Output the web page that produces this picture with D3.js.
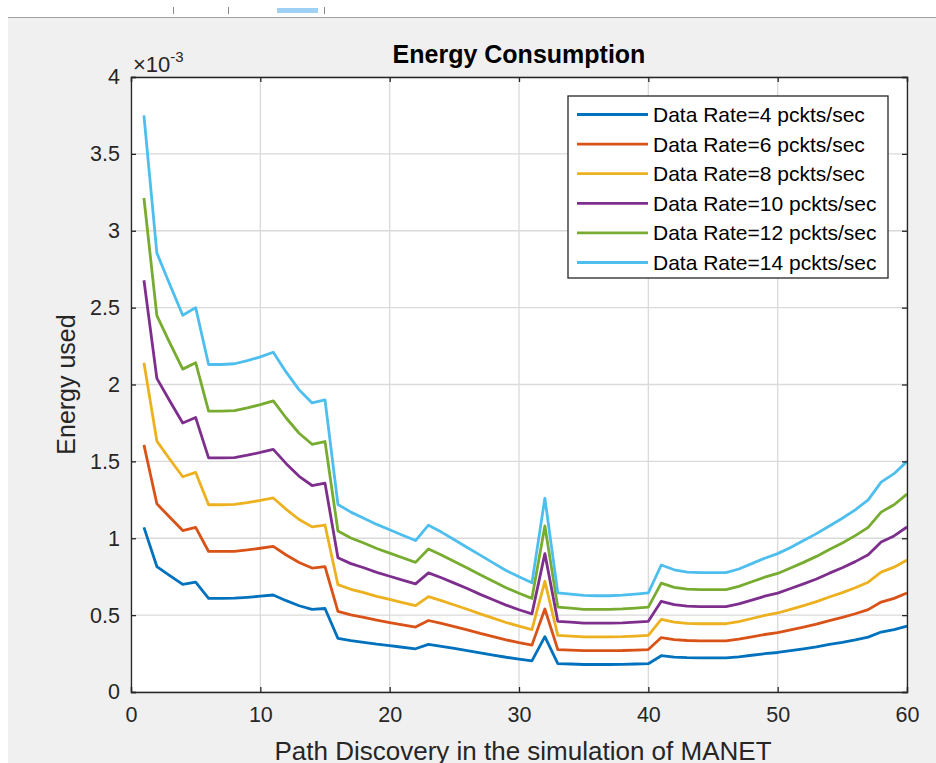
<!DOCTYPE html>
<html>
<head>
<meta charset="utf-8">
<script src="https://cdn.jsdelivr.net/npm/d3@7"></script>
<style>
  body { margin: 0; background: #fff; }
  text { font-family: "Liberation Sans", Arial, sans-serif; }
</style>
</head>
<body>
<div id="container"></div>
<script>
// path discovery index (x axis)
const pathIndex = [
  1, 2, 3, 4, 5, 6, 7, 8, 9, 10, 11, 12, 13, 14, 15, 16, 17, 18, 19, 20,
  21, 22, 23, 24, 25, 26, 27, 28, 29, 30, 31, 32, 33, 34, 35, 36, 37, 38, 39, 40,
  41, 42, 43, 44, 45, 46, 47, 48, 49, 50, 51, 52, 53, 54, 55, 56, 57, 58, 59, 60,
];

// energy used, in units of 1e-3
const rate4 = [
  1.071, 0.816, 0.757, 0.700, 0.714, 0.609, 0.609, 0.610, 0.616, 0.623,
  0.631, 0.594, 0.561, 0.537, 0.543, 0.349, 0.334, 0.323, 0.311, 0.301,
  0.291, 0.281, 0.310, 0.297, 0.283, 0.269, 0.254, 0.240, 0.226, 0.214,
  0.203, 0.360, 0.184, 0.182, 0.179, 0.179, 0.179, 0.180, 0.182, 0.184,
  0.236, 0.227, 0.223, 0.222, 0.222, 0.222, 0.229, 0.239, 0.249, 0.257,
  0.269, 0.281, 0.294, 0.309, 0.323, 0.339, 0.357, 0.390, 0.406, 0.429,
];
const rate6 = [
  1.607, 1.224, 1.136, 1.050, 1.071, 0.914, 0.914, 0.915, 0.924, 0.935,
  0.947, 0.891, 0.842, 0.806, 0.815, 0.524, 0.501, 0.485, 0.467, 0.452,
  0.437, 0.422, 0.465, 0.446, 0.425, 0.404, 0.381, 0.360, 0.339, 0.321,
  0.305, 0.540, 0.276, 0.273, 0.269, 0.269, 0.269, 0.270, 0.273, 0.276,
  0.354, 0.341, 0.335, 0.333, 0.333, 0.333, 0.344, 0.359, 0.374, 0.386,
  0.404, 0.422, 0.441, 0.464, 0.485, 0.509, 0.536, 0.585, 0.609, 0.644,
];
const rate8 = [
  2.142, 1.632, 1.514, 1.400, 1.428, 1.218, 1.218, 1.220, 1.232, 1.246,
  1.262, 1.188, 1.122, 1.074, 1.086, 0.698, 0.668, 0.646, 0.622, 0.602,
  0.582, 0.562, 0.620, 0.594, 0.566, 0.538, 0.508, 0.480, 0.452, 0.428,
  0.406, 0.720, 0.368, 0.364, 0.358, 0.358, 0.358, 0.360, 0.364, 0.368,
  0.472, 0.454, 0.446, 0.444, 0.444, 0.444, 0.458, 0.478, 0.498, 0.514,
  0.538, 0.562, 0.588, 0.618, 0.646, 0.678, 0.714, 0.780, 0.812, 0.858,
];
const rate10 = [
  2.678, 2.040, 1.893, 1.750, 1.785, 1.523, 1.523, 1.525, 1.540, 1.558,
  1.578, 1.485, 1.403, 1.343, 1.358, 0.873, 0.835, 0.808, 0.778, 0.753,
  0.728, 0.703, 0.775, 0.743, 0.708, 0.673, 0.635, 0.600, 0.565, 0.535,
  0.508, 0.900, 0.460, 0.455, 0.448, 0.448, 0.448, 0.450, 0.455, 0.460,
  0.590, 0.568, 0.558, 0.555, 0.555, 0.555, 0.573, 0.598, 0.623, 0.643,
  0.673, 0.703, 0.735, 0.773, 0.808, 0.848, 0.893, 0.975, 1.015, 1.073,
];
const rate12 = [
  3.213, 2.448, 2.271, 2.100, 2.142, 1.827, 1.827, 1.830, 1.848, 1.869,
  1.893, 1.782, 1.683, 1.611, 1.629, 1.047, 1.002, 0.969, 0.933, 0.903,
  0.873, 0.843, 0.930, 0.891, 0.849, 0.807, 0.762, 0.720, 0.678, 0.642,
  0.609, 1.080, 0.552, 0.546, 0.537, 0.537, 0.537, 0.540, 0.546, 0.552,
  0.708, 0.681, 0.669, 0.666, 0.666, 0.666, 0.687, 0.717, 0.747, 0.771,
  0.807, 0.843, 0.882, 0.927, 0.969, 1.017, 1.071, 1.170, 1.218, 1.287,
];
const rate14 = [
  3.750, 2.855, 2.650, 2.450, 2.500, 2.130, 2.130, 2.135, 2.155, 2.180,
  2.210, 2.080, 1.965, 1.880, 1.900, 1.220, 1.170, 1.130, 1.090, 1.055,
  1.020, 0.985, 1.085, 1.040, 0.990, 0.940, 0.890, 0.840, 0.790, 0.750,
  0.710, 1.260, 0.645, 0.637, 0.628, 0.626, 0.626, 0.630, 0.637, 0.645,
  0.826, 0.795, 0.780, 0.776, 0.776, 0.776, 0.800, 0.835, 0.870, 0.900,
  0.940, 0.985, 1.030, 1.080, 1.130, 1.185, 1.250, 1.365, 1.420, 1.500,
];

const seriesNames = [
  "Data Rate=4 pckts/sec",
  "Data Rate=6 pckts/sec",
  "Data Rate=8 pckts/sec",
  "Data Rate=10 pckts/sec",
  "Data Rate=12 pckts/sec",
  "Data Rate=14 pckts/sec",
];
const seriesValues = [rate4, rate6, rate8, rate10, rate12, rate14];
const colors = ["#0072BD", "#D95319", "#EDB120", "#7E2F8E", "#77AC30", "#4DBEEE"];

const xTicks = [0, 10, 20, 30, 40, 50, 60];
const yTicks = [0, 0.5, 1, 1.5, 2, 2.5, 3, 3.5, 4];

const width = 936;
const height = 763;
const plot = { left: 131, right: 907, top: 77, bottom: 692 };
const axisColor = "#262626";

const svg = d3
  .select("#container")
  .append("svg")
  .attr("width", width)
  .attr("height", height);

// window / figure background
svg.append("rect").attr("width", width).attr("height", height).attr("fill", "#fff");
svg
  .append("rect")
  .attr("x", 8)
  .attr("y", 18)
  .attr("width", width - 8)
  .attr("height", height - 18)
  .attr("fill", "#f0f0f0");
svg
  .append("line")
  .attr("x1", 8)
  .attr("x2", width)
  .attr("y1", 17.5)
  .attr("y2", 17.5)
  .attr("stroke", "#a0a0a0");
// bits of the toolbar that are cut off at the top
[173, 228, 324].forEach((x) => {
  svg
    .append("line")
    .attr("x1", x + 0.5)
    .attr("x2", x + 0.5)
    .attr("y1", 7)
    .attr("y2", 14)
    .attr("stroke", "#8a8a8a");
});
svg
  .append("rect")
  .attr("x", 277)
  .attr("y", 8)
  .attr("width", 41)
  .attr("height", 5)
  .attr("fill", "#9fd0f5");

const xScale = d3.scaleLinear().domain([0, 60]).range([plot.left, plot.right]);
const yScale = d3.scaleLinear().domain([0, 4]).range([plot.bottom, plot.top]);

svg
  .append("rect")
  .attr("x", plot.left)
  .attr("y", plot.top)
  .attr("width", plot.right - plot.left)
  .attr("height", plot.bottom - plot.top)
  .attr("fill", "#fff");

// grid
const grid = svg.append("g").attr("stroke", "#dadada").attr("stroke-width", 1.3);
grid
  .selectAll(".gx")
  .data(xTicks)
  .enter()
  .append("line")
  .attr("x1", (d) => xScale(d))
  .attr("x2", (d) => xScale(d))
  .attr("y1", plot.top)
  .attr("y2", plot.bottom);
grid
  .selectAll(".gy")
  .data(yTicks)
  .enter()
  .append("line")
  .attr("x1", plot.left)
  .attr("x2", plot.right)
  .attr("y1", (d) => yScale(d))
  .attr("y2", (d) => yScale(d));

// lines
const line = d3
  .line()
  .x((d, i) => xScale(pathIndex[i]))
  .y((d) => yScale(d));

svg
  .append("g")
  .selectAll("path")
  .data(seriesValues)
  .enter()
  .append("path")
  .attr("d", (d) => line(d))
  .attr("fill", "none")
  .attr("stroke", (d, i) => colors[i])
  .attr("stroke-width", 2.8)
  .attr("stroke-linejoin", "round");

// axes (ticks point inward, like MATLAB)
const fmtY = (d) => (d === 0 ? "0" : d3.format("~g")(d));
const xAxis = d3.axisBottom(xScale).tickValues(xTicks).tickSize(-5).tickPadding(15);
const yAxis = d3.axisLeft(yScale).tickValues(yTicks).tickSize(-5).tickPadding(11).tickFormat(fmtY);

const gx = svg
  .append("g")
  .attr("transform", `translate(0, ${plot.bottom})`)
  .call(xAxis);
const gy = svg
  .append("g")
  .attr("transform", `translate(${plot.left}, 0)`)
  .call(yAxis);
const gTop = svg
  .append("g")
  .attr("transform", `translate(0, ${plot.top})`)
  .call(d3.axisTop(xScale).tickValues(xTicks).tickSize(-5).tickFormat(""));
const gRight = svg
  .append("g")
  .attr("transform", `translate(${plot.right}, 0)`)
  .call(d3.axisRight(yScale).tickValues(yTicks).tickSize(-5).tickFormat(""));

[gx, gy, gTop, gRight].forEach((g) => {
  g.select(".domain").attr("stroke", axisColor).attr("stroke-width", 1.3);
  g.selectAll(".tick line").attr("stroke", axisColor).attr("stroke-width", 1.3);
  g.selectAll(".tick text")
    .attr("fill", axisColor)
    .style("font-size", "21.5px")
    .style("font-family", '"Liberation Sans", Arial, sans-serif');
});

// exponent label
const expo = svg
  .append("text")
  .attr("x", 133)
  .attr("y", 72)
  .attr("fill", axisColor)
  .style("font-size", "22px");
expo.append("tspan").text("\u00d710");
expo.append("tspan").attr("dy", -10).style("font-size", "15px").text("-3");

// title and labels
svg
  .append("text")
  .attr("x", (plot.left + plot.right) / 2)
  .attr("y", 63)
  .attr("text-anchor", "middle")
  .attr("fill", "#000")
  .style("font-size", "25px")
  .style("font-weight", "bold")
  .text("Energy Consumption");

svg
  .append("text")
  .attr("x", (plot.left + plot.right) / 2 + 4)
  .attr("y", 760)
  .attr("text-anchor", "middle")
  .attr("fill", axisColor)
  .style("font-size", "26px")
  .text("Path Discovery in the simulation of MANET");

svg
  .append("text")
  .attr("transform", `translate(75, ${(plot.top + plot.bottom) / 2}) rotate(-90)`)
  .attr("text-anchor", "middle")
  .attr("fill", axisColor)
  .style("font-size", "25px")
  .text("Energy used");

// legend
const legend = svg.append("g").attr("id", "legend").attr("transform", "translate(568, 96)");
legend
  .append("rect")
  .attr("width", 320)
  .attr("height", 182)
  .attr("fill", "#fff")
  .attr("stroke", axisColor)
  .attr("stroke-width", 1.3);
legend
  .selectAll("g")
  .data(seriesNames)
  .enter()
  .append("g")
  .attr("transform", (d, i) => `translate(0, ${18.5 + i * 29.6})`)
  .each(function (d, i) {
    const g = d3.select(this);
    g.append("line")
      .attr("x1", 9)
      .attr("x2", 80)
      .attr("stroke", colors[i])
      .attr("stroke-width", 2.8);
    g.append("text")
      .attr("x", 85)
      .attr("y", 7.5)
      .attr("fill", "#000")
      .style("font-size", "21px")
      .text(d);
  });
</script>
</body>
</html>
